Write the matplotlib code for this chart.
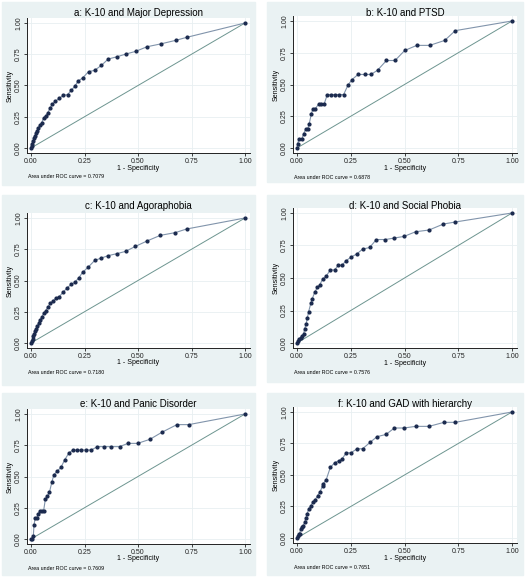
import matplotlib.pyplot as plt
from matplotlib.patches import Rectangle

plt.rcParams['font.family'] = ['Liberation Sans', 'DejaVu Sans']

titles = ['a: K-10 and Major Depression', 'b: K-10 and PTSD',
          'c: K-10 and Agoraphobia', 'd: K-10 and Social Phobia',
          'e: K-10 and Panic Disorder', 'f: K-10 and GAD with hierarchy']
auc_values = ['0.7079', '0.6878', '0.7180', '0.7576', '0.7609', '0.7651']

# 1 - specificity / sensitivity
fpr_a = [0, 0.003, 0.006, 0.009, 0.014, 0.019, 0.023, 0.028, 0.034, 0.042, 0.05, 0.059,
         0.069, 0.079, 0.09, 0.1, 0.114, 0.131, 0.151, 0.171, 0.188, 0.204, 0.221, 0.241,
         0.269, 0.297, 0.329, 0.361, 0.402, 0.444, 0.489, 0.542, 0.607, 0.678, 0.727, 1]
tpr_a = [0, 0.019, 0.035, 0.053, 0.08, 0.099, 0.12, 0.133, 0.16, 0.187, 0.2, 0.243,
         0.259, 0.283, 0.323, 0.352, 0.373, 0.397, 0.421, 0.427, 0.461, 0.493, 0.536, 0.56,
         0.611, 0.621, 0.661, 0.712, 0.73, 0.752, 0.773, 0.81, 0.833, 0.862, 0.885, 1]

fpr_b = [0, 0.003, 0.011, 0.023, 0.031, 0.042, 0.05, 0.057, 0.067, 0.074, 0.085, 0.1,
         0.113, 0.126, 0.141, 0.16, 0.178, 0.197, 0.217, 0.237, 0.256, 0.284, 0.315, 0.344,
         0.375, 0.416, 0.456, 0.501, 0.557, 0.617, 0.687, 0.736, 1]
tpr_b = [0, 0.034, 0.074, 0.074, 0.113, 0.153, 0.153, 0.192, 0.271, 0.308, 0.308, 0.345,
         0.345, 0.345, 0.421, 0.421, 0.421, 0.421, 0.421, 0.495, 0.539, 0.579, 0.579, 0.579,
         0.613, 0.689, 0.689, 0.768, 0.808, 0.808, 0.847, 0.924, 1]

fpr_c = [0, 0.005, 0.008, 0.011, 0.016, 0.02, 0.025, 0.03, 0.036, 0.042, 0.05, 0.059,
         0.069, 0.078, 0.09, 0.101, 0.115, 0.132, 0.151, 0.17, 0.188, 0.204, 0.223, 0.241,
         0.268, 0.298, 0.329, 0.361, 0.402, 0.442, 0.488, 0.542, 0.604, 0.674, 0.727, 1]
tpr_c = [0, 0.013, 0.035, 0.053, 0.072, 0.093, 0.115, 0.133, 0.163, 0.187, 0.205, 0.237,
         0.259, 0.285, 0.317, 0.333, 0.357, 0.371, 0.408, 0.443, 0.469, 0.485, 0.52, 0.565,
         0.608, 0.661, 0.68, 0.699, 0.715, 0.733, 0.773, 0.816, 0.861, 0.883, 0.912, 1]

fpr_d = [0, 0.005, 0.011, 0.017, 0.023, 0.031, 0.036, 0.043, 0.048, 0.054, 0.064, 0.071,
         0.082, 0.095, 0.105, 0.119, 0.136, 0.155, 0.175, 0.192, 0.209, 0.229, 0.251, 0.279,
         0.305, 0.338, 0.369, 0.411, 0.451, 0.498, 0.552, 0.614, 0.681, 0.733, 1]
tpr_d = [0, 0.013, 0.028, 0.039, 0.054, 0.072, 0.111, 0.149, 0.193, 0.24, 0.304, 0.34,
         0.389, 0.428, 0.446, 0.49, 0.515, 0.562, 0.562, 0.598, 0.598, 0.634, 0.66, 0.686,
         0.722, 0.735, 0.796, 0.796, 0.807, 0.82, 0.856, 0.869, 0.915, 0.93, 1]

fpr_e = [0, 0.006, 0.011, 0.014, 0.02, 0.028, 0.033, 0.042, 0.051, 0.059, 0.067, 0.076,
         0.086, 0.098, 0.107, 0.123, 0.14, 0.157, 0.176, 0.195, 0.213, 0.235, 0.257, 0.282,
         0.31, 0.343, 0.375, 0.414, 0.453, 0.498, 0.555, 0.614, 0.682, 0.737, 1]
tpr_e = [0, 0, 0.027, 0.112, 0.171, 0.171, 0.2, 0.227, 0.227, 0.227, 0.317, 0.341,
         0.373, 0.459, 0.515, 0.544, 0.573, 0.632, 0.685, 0.712, 0.712, 0.712, 0.712, 0.712,
         0.739, 0.739, 0.739, 0.739, 0.765, 0.765, 0.797, 0.856, 0.915, 0.915, 1]

fpr_f = [0, 0.003, 0.008, 0.012, 0.017, 0.023, 0.029, 0.036, 0.042, 0.048, 0.054, 0.065,
         0.074, 0.085, 0.096, 0.107, 0.119, 0.122, 0.136, 0.155, 0.175, 0.194, 0.209, 0.229,
         0.251, 0.279, 0.305, 0.34, 0.372, 0.414, 0.453, 0.498, 0.552, 0.614, 0.684, 0.736, 1]
tpr_f = [0, 0.016, 0.029, 0.034, 0.074, 0.088, 0.095, 0.127, 0.162, 0.194, 0.233, 0.257,
         0.286, 0.305, 0.337, 0.366, 0.414, 0.43, 0.464, 0.56, 0.597, 0.613, 0.626, 0.676,
         0.676, 0.708, 0.708, 0.759, 0.804, 0.822, 0.873, 0.873, 0.886, 0.886, 0.918, 0.918, 1]

curves = [(fpr_a, tpr_a), (fpr_b, tpr_b), (fpr_c, tpr_c),
          (fpr_d, tpr_d), (fpr_e, tpr_e), (fpr_f, tpr_f)]
ticks = [0, 0.25, 0.5, 0.75, 1]

W, H = 525, 582
BG = '#eaf2f3'
XLIM = (-0.02, 1.025)
YLIM = (-0.04, 1.04)

# panel boxes (left, top, right, bottom) and where 0 and 1 fall, in pixels
panels = [((2, 2, 255, 185), (31, 245, 148, 23)),
          ((267, 2, 523, 182), (297, 512, 148, 21)),
          ((2, 195, 255, 385), (31, 245, 343, 218)),
          ((267, 195, 523, 382), (297, 512, 343, 213)),
          ((2, 393, 255, 575), (31, 245, 539, 414)),
          ((267, 393, 523, 575), (297, 512, 538, 412))]

fig = plt.figure(figsize=(W / 100, H / 100), dpi=100)
fig.patch.set_facecolor('white')


def fx(px):
    return px / W


def fy(py):
    return 1 - py / H


for i, (box, mapping) in enumerate(panels):
    l, t, r, b = box
    x0, x1, y0, y1 = mapping
    fig.patches.append(Rectangle((fx(l), fy(b)), (r - l) / W, (b - t) / H,
                                 transform=fig.transFigure, color=BG, zorder=-10))
    sx = x1 - x0
    sy = y0 - y1
    ax_l = x0 + XLIM[0] * sx
    ax_r = x0 + XLIM[1] * sx
    ax_b = y0 - YLIM[0] * sy
    ax_t = y0 - YLIM[1] * sy
    ax = fig.add_axes([fx(ax_l), fy(ax_b), (ax_r - ax_l) / W, (ax_b - ax_t) / H])
    ax.set_zorder(5)
    ax.set_facecolor('white')
    ax.set_xlim(*XLIM)
    ax.set_ylim(*YLIM)

    fpr, tpr = curves[i]
    ax.plot([0, 1], [0, 1], color='#6d9590', lw=0.7, zorder=2)
    ax.plot(fpr, tpr, color='#8194ab', lw=0.8, marker='o', ms=2.0,
            mfc='#1b2a4e', mec='#1b2a4e', zorder=3, clip_on=False)

    ax.set_xticks(ticks)
    ax.set_yticks(ticks)
    ax.set_xticklabels(['%.2f' % v for v in ticks])
    ax.set_yticklabels(['%.2f' % v for v in ticks], rotation=90, va='center')
    ax.tick_params(labelsize=5, length=2.2, width=0.6, pad=1.2, colors='#222222')
    ax.grid(True, color='#e8eff1', lw=0.6)
    ax.set_axisbelow(True)
    for side in ['top', 'right']:
        ax.spines[side].set_visible(False)
    for side in ['left', 'bottom']:
        ax.spines[side].set_color('#222222')
        ax.spines[side].set_linewidth(0.7)

    cx = (ax_l + ax_r) / 2
    fig.text(fx(cx), fy(t + 11), titles[i], ha='center', va='center', fontsize=7,
             zorder=20)
    fig.text(fx(cx), fy(ax_b + 15), '1 - Specificity', ha='center', va='center', fontsize=5)
    fig.text(fx(ax_l - 17), fy((y0 + y1) / 2), 'Sensitivity', ha='center', va='center',
             rotation=90, fontsize=5)
    fig.text(fx(ax_l + 1), fy(ax_b + 24), 'Area under ROC curve = ' + auc_values[i],
             ha='left', va='center', fontsize=3.8)

fig.savefig('out.png', dpi=100)
